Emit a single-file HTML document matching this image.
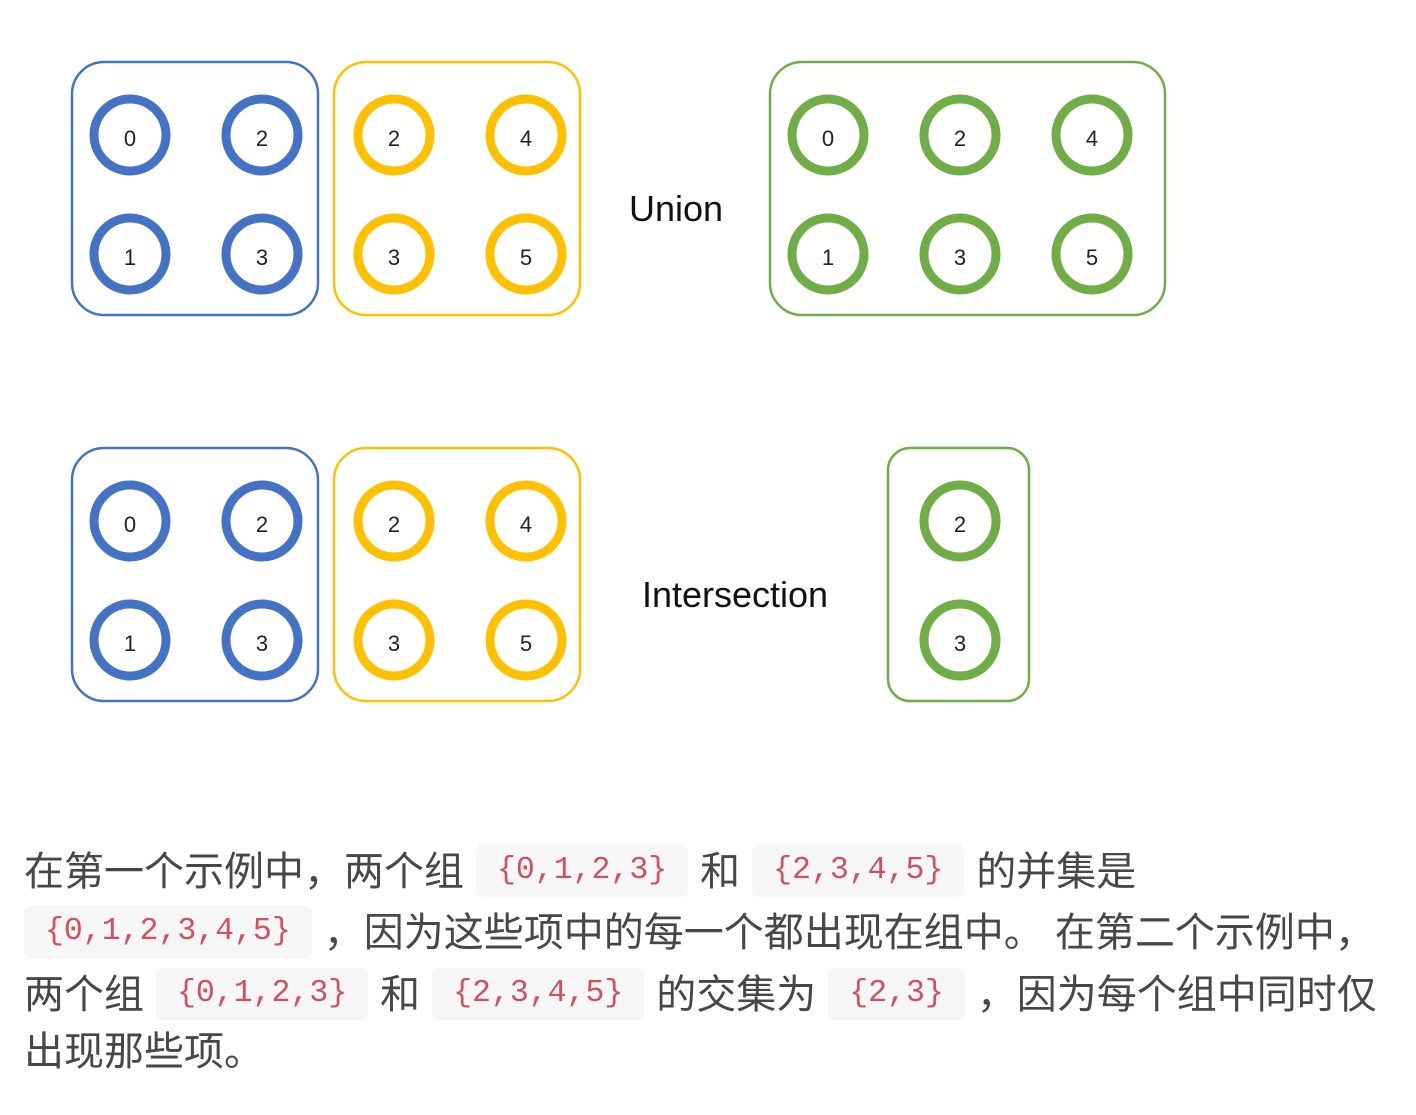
<!DOCTYPE html>
<html><head><meta charset="utf-8"><style>
body{margin:0;width:1416px;height:1115px;background:#fff;overflow:hidden;position:relative;font-family:"Liberation Sans","Noto Sans CJK SC",sans-serif}
.l{position:absolute;left:24px;height:61px;line-height:61px;font-size:40px;color:#474747;white-space:nowrap}
code{display:inline-block;font-family:"Liberation Mono",monospace;font-size:31.5px;color:#d05060;background:#f6f6f6;border-radius:6px;padding:0 21px;line-height:52px;height:52px;vertical-align:middle;margin:0 12px;position:relative;top:-3px}
</style></head><body>
<svg width="1416" height="800" style="position:absolute;left:0;top:0" font-family="Liberation Sans, sans-serif">
<g fill="none" stroke-width="2.5">
<rect x="72" y="62" width="246" height="253" rx="32" stroke="#4472c4"/>
<rect x="334" y="62" width="246" height="253" rx="32" stroke="#ffc000"/>
<rect x="770" y="62" width="395" height="253" rx="32" stroke="#70ad47"/>
<rect x="72" y="448" width="246" height="253" rx="32" stroke="#4472c4"/>
<rect x="334" y="448" width="246" height="253" rx="32" stroke="#ffc000"/>
<rect x="888" y="448" width="141" height="253" rx="22" stroke="#70ad47"/>
</g>
<g fill="none" stroke-width="9">
<g stroke="#4472c4"><circle cx="130" cy="135" r="36"/><circle cx="262" cy="135" r="36"/><circle cx="130" cy="254" r="36"/><circle cx="262" cy="254" r="36"/>
<circle cx="130" cy="521" r="36"/><circle cx="262" cy="521" r="36"/><circle cx="130" cy="640" r="36"/><circle cx="262" cy="640" r="36"/></g>
<g stroke="#ffc000"><circle cx="394" cy="135" r="36"/><circle cx="526" cy="135" r="36"/><circle cx="394" cy="254" r="36"/><circle cx="526" cy="254" r="36"/>
<circle cx="394" cy="521" r="36"/><circle cx="526" cy="521" r="36"/><circle cx="394" cy="640" r="36"/><circle cx="526" cy="640" r="36"/></g>
<g stroke="#70ad47"><circle cx="828" cy="135" r="36"/><circle cx="960" cy="135" r="36"/><circle cx="1092" cy="135" r="36"/><circle cx="828" cy="254" r="36"/><circle cx="960" cy="254" r="36"/><circle cx="1092" cy="254" r="36"/>
<circle cx="960" cy="521" r="36"/><circle cx="960" cy="640" r="36"/></g>
</g>
<g font-size="22" fill="#222" text-anchor="middle">
<text x="130" y="146">0</text><text x="262" y="146">2</text><text x="130" y="265">1</text><text x="262" y="265">3</text>
<text x="394" y="146">2</text><text x="526" y="146">4</text><text x="394" y="265">3</text><text x="526" y="265">5</text>
<text x="828" y="146">0</text><text x="960" y="146">2</text><text x="1092" y="146">4</text><text x="828" y="265">1</text><text x="960" y="265">3</text><text x="1092" y="265">5</text>
<text x="130" y="532">0</text><text x="262" y="532">2</text><text x="130" y="651">1</text><text x="262" y="651">3</text>
<text x="394" y="532">2</text><text x="526" y="532">4</text><text x="394" y="651">3</text><text x="526" y="651">5</text>
<text x="960" y="532">2</text><text x="960" y="651">3</text>
</g>
<g font-size="36" fill="#111" text-anchor="middle">
<text x="676" y="221">Union</text>
<text x="735" y="607">Intersection</text>
</g>
</svg>
<div class="l" style="top:842px">在第一个示例中，两个组<code>{0,1,2,3}</code>和<code>{2,3,4,5}</code>的并集是</div>
<div class="l" style="top:903px"><code style="margin-left:0">{0,1,2,3,4,5}</code>，因为这些项中的每一个都出现在组中。 在第二个示例中，</div>
<div class="l" style="top:965px">两个组<code>{0,1,2,3}</code>和<code>{2,3,4,5}</code>的交集为<code>{2,3}</code>，因为每个组中同时仅</div>
<div class="l" style="top:1022px">出现那些项。</div>
</body></html>
